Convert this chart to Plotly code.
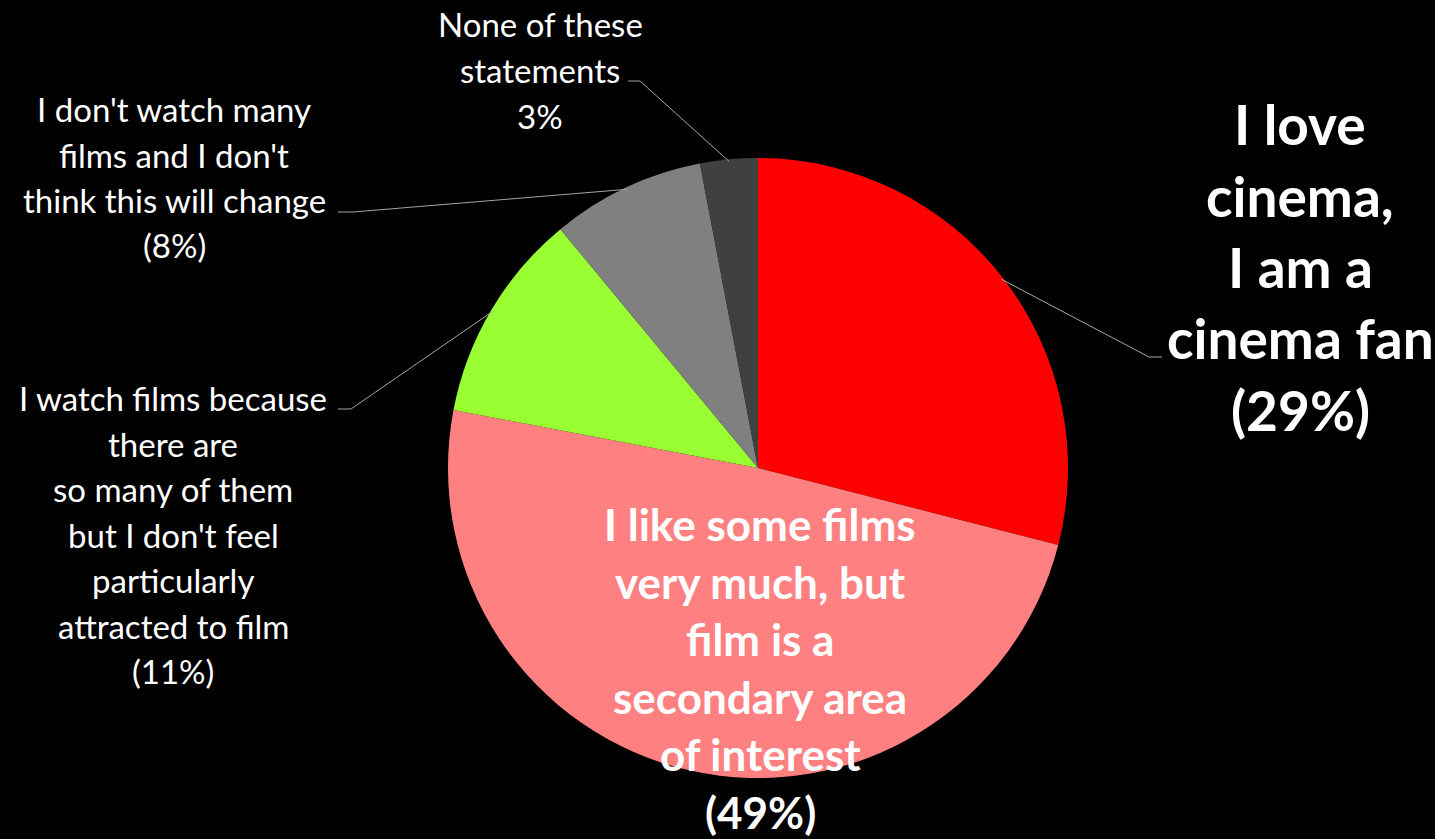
import math
import plotly.graph_objects as go

# Survey answers, clockwise from 12 o'clock
categories = [
    "I love cinema, I am a cinema fan",
    "I like some films very much, but film is a secondary area of interest",
    "I watch films because there are so many of them but I don't feel particularly attracted to film",
    "I don't watch many films and I don't think this will change",
    "None of these statements",
]
shares = [29, 49, 11, 8, 3]
slice_colors = ["#FF0000", "#FF8080", "#99FF33", "#808080", "#404040"]

# Label lines for each slice (drawn one annotation per line)
label_lines = [
    ["I love", "cinema,", "I am a", "cinema fan", "(29%)"],
    ["I like some films", "very much, but", "film is a", "secondary area", "of interest", "(49%)"],
    ["I watch films because", "there are", "so many of them", "but I don't feel",
     "particularly", "attracted to film", "(11%)"],
    ["I don't watch many", "films and I don't", "think this will change", "(8%)"],
    ["None of these", "statements", "3%"],
]

W, H = 1435, 839
FONT = "Lato"

# Pie placement in pixels
CX, CY, R = 758, 468, 310

# Label block layout: (center x, first line y, line spacing, size, bold)
label_layout = [
    (1300, 124, 71.5, 55, True),
    (760, 524, 57.6, 44, True),
    (173, 398, 45.5, 33, False),
    (174, 109, 45.5, 33, False),
    (540, 24, 46, 33, False),
]
# Leader lines: (elbow point, end point near the text); None = label inside slice
leader_layout = [
    ((1149, 357), (1162, 357)),
    None,
    ((351, 409), (338, 409)),
    ((353, 212), (338, 212)),
    ((640, 81), (628, 81)),
]


def px(x):
    return x / W


def py(y):
    return 1 - y / H


fig = go.Figure()
fig.add_trace(go.Pie(
    labels=categories,
    values=shares,
    marker=dict(colors=slice_colors, line=dict(width=0)),
    sort=False,
    direction="clockwise",
    rotation=0,
    textinfo="none",
    hoverinfo="label+percent",
    showlegend=False,
    domain=dict(x=[px(CX - R), px(CX + R)], y=[py(CY + R), py(CY - R)]),
))

annotations = []
shapes = []
total = sum(shares)
start = 90.0
for i, v in enumerate(shares):
    sweep = 360.0 * v / total
    mid = math.radians(start - sweep / 2)
    start -= sweep

    cx, y0, dy, size, bold = label_layout[i]
    for k, line in enumerate(label_lines[i]):
        txt = f"<b>{line}</b>" if bold else line
        annotations.append(dict(
            x=px(cx), y=py(y0 + k * dy), xref="paper", yref="paper",
            text=txt, showarrow=False, xanchor="center", yanchor="middle",
            font=dict(family=FONT, size=size, color="white"),
        ))

    if leader_layout[i] is not None:
        (ex, ey), (tx, ty) = leader_layout[i]
        sx = CX + (R - 2) * math.cos(mid)
        sy = CY - (R - 2) * math.sin(mid)
        path = f"M {px(sx)},{py(sy)} L {px(ex)},{py(ey)} L {px(tx)},{py(ty)}"
        shapes.append(dict(type="path", path=path, xref="paper", yref="paper",
                           line=dict(color="#A6A6A6", width=1)))

fig.update_layout(
    width=W, height=H,
    margin=dict(l=0, r=0, t=0, b=0),
    paper_bgcolor="black",
    plot_bgcolor="black",
    annotations=annotations,
    shapes=shapes,
)

fig.write_html("out.html")
